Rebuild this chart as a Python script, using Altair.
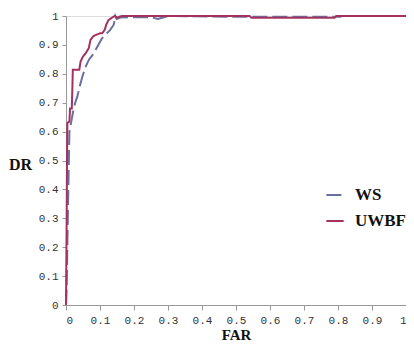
import altair as alt
import pandas as pd

ws_far = [0, 0.002, 0.004, 0.006, 0.008, 0.01, 0.017, 0.021, 0.027, 0.033, 0.039, 0.048,
          0.058, 0.067, 0.075, 0.082, 0.092, 0.106, 0.12, 0.13, 0.14, 0.143, 0.145, 0.149,
          0.16, 0.25, 0.27, 0.3, 0.5, 0.81]
ws_dr = [0, 0.06, 0.21, 0.35, 0.47, 0.6, 0.644, 0.67, 0.7, 0.72, 0.75, 0.79,
         0.825, 0.848, 0.86, 0.871, 0.894, 0.923, 0.94, 0.952, 0.969, 0.985, 1.0, 0.99,
         0.995, 0.996, 0.99, 1.0, 0.997, 0.997]

uw_far = [0, 0.002, 0.003, 0.004, 0.01, 0.012, 0.017, 0.019, 0.02, 0.03, 0.039, 0.043,
          0.05, 0.058, 0.067, 0.072, 0.08, 0.087, 0.1, 0.106, 0.114, 0.118, 0.125, 0.14,
          0.145, 0.149, 0.164, 0.54, 0.545, 0.79, 0.795, 1.0]
uw_dr = [0, 0.3, 0.5, 0.63, 0.635, 0.68, 0.68, 0.76, 0.814, 0.814, 0.814, 0.843,
         0.86, 0.871, 0.889, 0.917, 0.93, 0.934, 0.94, 0.94, 0.952, 0.969, 0.986, 0.998,
         1.0, 0.994, 1.0, 1.0, 0.994, 0.994, 1.0, 1.0]

series = ["WS", "UWBF"]
colors = ["#6b6f9f", "#a3325f"]

ws = pd.DataFrame({"FAR": ws_far, "DR": ws_dr, "series": "WS", "i": range(len(ws_far))})
uw = pd.DataFrame({"FAR": uw_far, "DR": uw_dr, "series": "UWBF", "i": range(len(uw_far))})

tick_font = "Liberation Mono"

x = alt.X("FAR:Q", scale=alt.Scale(domain=[0, 1], nice=False),
          axis=alt.Axis(values=[i / 10 for i in range(11)], format=".1~f", grid=False,
                        title="FAR", titleFont="Liberation Serif", titleFontSize=15,
                        titleFontWeight="bold", titleColor="#111", titleBaseline="top",
                        titleY=22, labelFont=tick_font, labelFontSize=11, labelColor="#333",
                        labelPadding=4, tickSize=5, tickColor="#999", domainColor="#999"))
y = alt.Y("DR:Q", scale=alt.Scale(domain=[0, 1], nice=False),
          axis=alt.Axis(values=[i / 10 for i in range(11)], format=".1~f", grid=False,
                        title="DR", titleAngle=0, titleFont="Liberation Serif", titleFontSize=16,
                        titleFontWeight="bold", titleColor="#111", titleAlign="center",
                        titleBaseline="middle", titleX=-46, titleY=148,
                        labelFont=tick_font, labelFontSize=11, labelColor="#333",
                        labelPadding=4, tickSize=4, tickColor="#999", domainColor="#999"))

leg = dict(title=None, orient="none", legendX=259, legendY=169,
           symbolType="stroke", symbolSize=300, symbolStrokeWidth=2,
           labelFont="Liberation Serif", labelFontSize=17,
           labelFontWeight="bold", labelColor="#111",
           rowPadding=8, labelOffset=10)
color = alt.Color("series:N", scale=alt.Scale(domain=series, range=colors), legend=alt.Legend(**leg))
dash = alt.StrokeDash("series:N", scale=alt.Scale(domain=series, range=[[15, 5], [1, 0]]),
                      legend=alt.Legend(**leg))

l1 = alt.Chart(ws).mark_line(strokeWidth=2).encode(x=x, y=y, color=color, strokeDash=dash, order="i:Q")
l2 = alt.Chart(uw).mark_line(strokeWidth=2).encode(x=x, y=y, color=color, strokeDash=dash, order="i:Q")

chart = alt.layer(l1, l2).properties(
    width=340, height=289,
    autosize=alt.AutoSizeParams(type="none"),
    padding={"left": 58, "top": 8, "right": 0, "bottom": 36},
).configure_view(stroke=None).configure(background="white")

chart.save("out.html", embed_options={"renderer": "svg", "actions": False})
